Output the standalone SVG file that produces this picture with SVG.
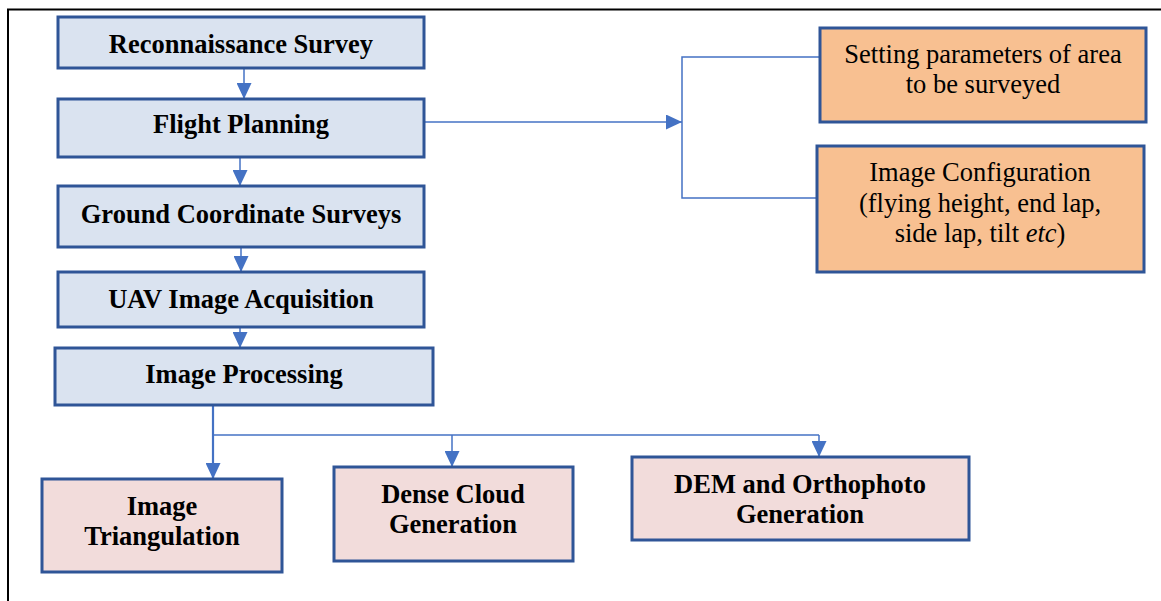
<svg xmlns="http://www.w3.org/2000/svg" width="1161" height="601" viewBox="0 0 1161 601">
  <style>
    .box { stroke: #2F5597; stroke-width: 3; }
    .blue { fill: #DAE3F0; }
    .pink { fill: #F2DCDB; }
    .orange { fill: #F8C091; }
    .bold { font-family: "Liberation Serif", "Times New Roman", serif; font-weight: bold; font-size: 26.5px; fill: #000; text-anchor: middle; }
    .reg { font-family: "Liberation Serif", "Times New Roman", serif; font-size: 26.5px; fill: #000; text-anchor: middle; }
    .link { stroke: #4472C4; stroke-width: 1.5; fill: none; }
    .trunk { stroke: #4472C4; stroke-width: 2.2; fill: none; }
  </style>
  <defs>
    <marker id="head" viewBox="0 0 16 15" refX="16" refY="7.5" markerWidth="16" markerHeight="15" markerUnits="userSpaceOnUse" orient="auto">
      <path d="M0,0 L16,7.5 L0,15 Z" fill="#4472C4"/>
    </marker>
  </defs>

  <rect width="1161" height="601" fill="#fff"/>
  <!-- page frame -->
  <path d="M1161,9.5 H8 V601" fill="none" stroke="#000" stroke-width="2"/>

  <!-- connectors -->
  <g id="connectors">
    <line class="link" x1="244" y1="68" x2="244" y2="99" marker-end="url(#head)"/>
    <line class="link" x1="240" y1="157" x2="240" y2="186" marker-end="url(#head)"/>
    <line class="link" x1="241" y1="247" x2="241" y2="272" marker-end="url(#head)"/>
    <line class="link" x1="240" y1="327" x2="240" y2="348" marker-end="url(#head)"/>
    <line class="link" x1="424" y1="122" x2="682" y2="122" marker-end="url(#head)"/>
    <path class="link" d="M820,57 H682 V198 H817"/>
    <line class="trunk" x1="213" y1="405" x2="213" y2="479" marker-end="url(#head)"/>
    <path class="link" d="M213,435 H819"/>
    <line class="link" x1="452" y1="435" x2="452" y2="467" marker-end="url(#head)"/>
    <line class="link" x1="819" y1="435" x2="819" y2="457" marker-end="url(#head)"/>
  </g>

  <!-- main workflow -->
  <g id="reconnaissance">
    <rect class="box blue" x="58" y="17" width="366" height="51"/>
    <text class="bold" x="241" y="53">Reconnaissance Survey</text>
  </g>
  <g id="flight-planning">
    <rect class="box blue" x="58" y="99" width="366" height="58"/>
    <text class="bold" x="241" y="133">Flight Planning</text>
  </g>
  <g id="ground-surveys">
    <rect class="box blue" x="58" y="186" width="366" height="61"/>
    <text class="bold" x="241" y="223">Ground Coordinate Surveys</text>
  </g>
  <g id="uav-acquisition">
    <rect class="box blue" x="58" y="272" width="366" height="55"/>
    <text class="bold" x="241" y="308">UAV Image Acquisition</text>
  </g>
  <g id="image-processing">
    <rect class="box blue" x="55" y="348" width="378" height="57"/>
    <text class="bold" x="244" y="383">Image Processing</text>
  </g>

  <!-- flight planning details -->
  <g id="area-parameters">
    <rect class="box orange" x="820" y="28" width="326" height="94"/>
    <text class="reg" x="983" y="63">Setting parameters of area</text>
    <text class="reg" x="983" y="93">to be surveyed</text>
  </g>
  <g id="image-configuration">
    <rect class="box orange" x="817" y="146" width="327" height="126"/>
    <text class="reg" x="980" y="181">Image Configuration</text>
    <text class="reg" x="980" y="212">(flying height, end lap,</text>
    <text class="reg" x="980" y="242">side lap, tilt <tspan font-style="italic">etc</tspan>)</text>
  </g>

  <!-- processing outputs -->
  <g id="triangulation">
    <rect class="box pink" x="42" y="479" width="240" height="93"/>
    <text class="bold" x="162" y="515">Image</text>
    <text class="bold" x="162" y="545">Triangulation</text>
  </g>
  <g id="dense-cloud">
    <rect class="box pink" x="334" y="467" width="239" height="94"/>
    <text class="bold" x="453" y="503">Dense Cloud</text>
    <text class="bold" x="453" y="533">Generation</text>
  </g>
  <g id="dem-orthophoto">
    <rect class="box pink" x="632" y="457" width="337" height="83"/>
    <text class="bold" x="800" y="493">DEM and Orthophoto</text>
    <text class="bold" x="800" y="523">Generation</text>
  </g>
</svg>
